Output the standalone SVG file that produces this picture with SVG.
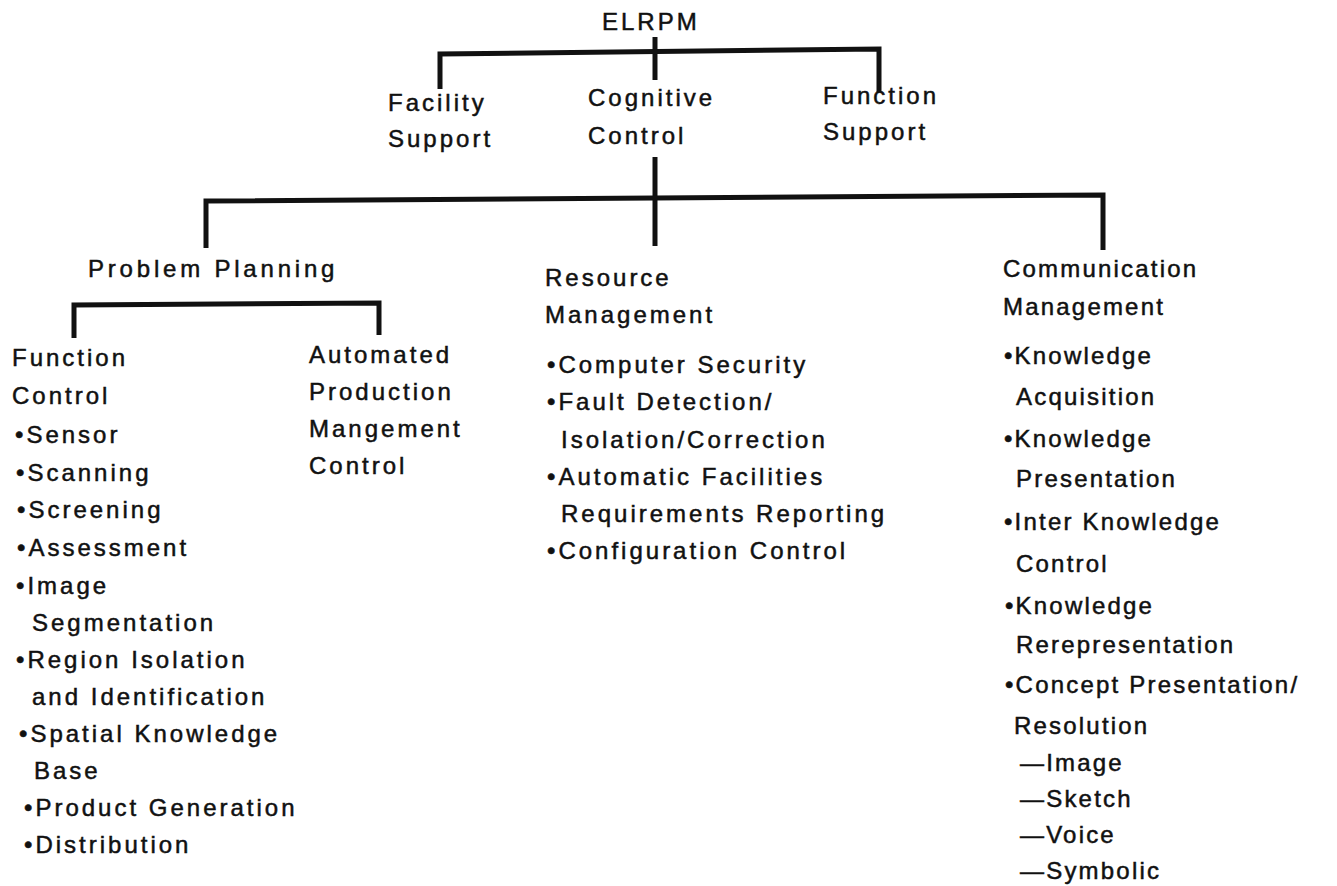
<svg xmlns="http://www.w3.org/2000/svg" width="1337" height="886" viewBox="0 0 1337 886">
<style>
text { font-family: "Liberation Sans", Arial, Helvetica, sans-serif; font-size: 24px; letter-spacing: 3px; fill: #111; stroke: #111; stroke-width: 0.5px; }
#communication-management text { letter-spacing: 2.2px; }
.c { stroke: #111; stroke-width: 5; fill: none; stroke-linejoin: miter; stroke-linecap: butt; }
</style>
<rect width="1337" height="886" fill="#fff"/>
<g id="connectors">
  <path class="c" d="M655,37 V80"/>
  <path class="c" d="M440,89 V54 L879,49 V92"/>
  <path class="c" d="M655,157 V246"/>
  <path class="c" d="M206,248 V201 L1103,195 V250"/>
  <path class="c" d="M74,338 V305 L379,303 V335"/>
</g>
<g id="elrpm"><text x="602" y="30">ELRPM</text></g>
<g id="facility-support">
  <text x="388" y="111">Facility</text>
  <text x="388" y="147">Support</text>
</g>
<g id="cognitive-control">
  <text x="588" y="106">Cognitive</text>
  <text x="588" y="144">Control</text>
</g>
<g id="function-support">
  <text x="823" y="104">Function</text>
  <text x="823" y="140">Support</text>
</g>
<g id="problem-planning"><text x="88" y="277" style="letter-spacing:3.8px">Problem Planning</text></g>
<g id="function-control">
  <text x="12" y="366">Function</text>
  <text x="12" y="404">Control</text>
  <text x="15" y="443">•Sensor</text>
  <text x="16" y="481">•Scanning</text>
  <text x="17" y="518">•Screening</text>
  <text x="17" y="556">•Assessment</text>
  <text x="16" y="594">•Image</text>
  <text x="32" y="631">Segmentation</text>
  <text x="16" y="668">•Region Isolation</text>
  <text x="32" y="705">and Identification</text>
  <text x="19" y="742">•Spatial Knowledge</text>
  <text x="34" y="779">Base</text>
  <text x="24" y="816">•Product Generation</text>
  <text x="24" y="853">•Distribution</text>
</g>
<g id="automated-production">
  <text x="309" y="363">Automated</text>
  <text x="309" y="400">Production</text>
  <text x="309" y="437">Mangement</text>
  <text x="309" y="474">Control</text>
</g>
<g id="resource-management">
  <text x="545" y="286">Resource</text>
  <text x="545" y="323">Management</text>
  <text x="547" y="373">•Computer Security</text>
  <text x="547" y="410">•Fault Detection/</text>
  <text x="561" y="448">Isolation/Correction</text>
  <text x="547" y="485">•Automatic Facilities</text>
  <text x="561" y="522">Requirements Reporting</text>
  <text x="547" y="559">•Configuration Control</text>
</g>
<g id="communication-management">
  <text x="1003" y="277">Communication</text>
  <text x="1003" y="315">Management</text>
  <text x="1004" y="364">•Knowledge</text>
  <text x="1016" y="405">Acquisition</text>
  <text x="1004" y="447">•Knowledge</text>
  <text x="1016" y="487">Presentation</text>
  <text x="1004" y="530">•Inter Knowledge</text>
  <text x="1016" y="572">Control</text>
  <text x="1005" y="614">•Knowledge</text>
  <text x="1016" y="653">Rerepresentation</text>
  <text x="1005" y="693">•Concept Presentation/</text>
  <text x="1014" y="734">Resolution</text>
  <text x="1020" y="771">—Image</text>
  <text x="1020" y="807">—Sketch</text>
  <text x="1020" y="843">—Voice</text>
  <text x="1020" y="879">—Symbolic</text>
</g>
</svg>
